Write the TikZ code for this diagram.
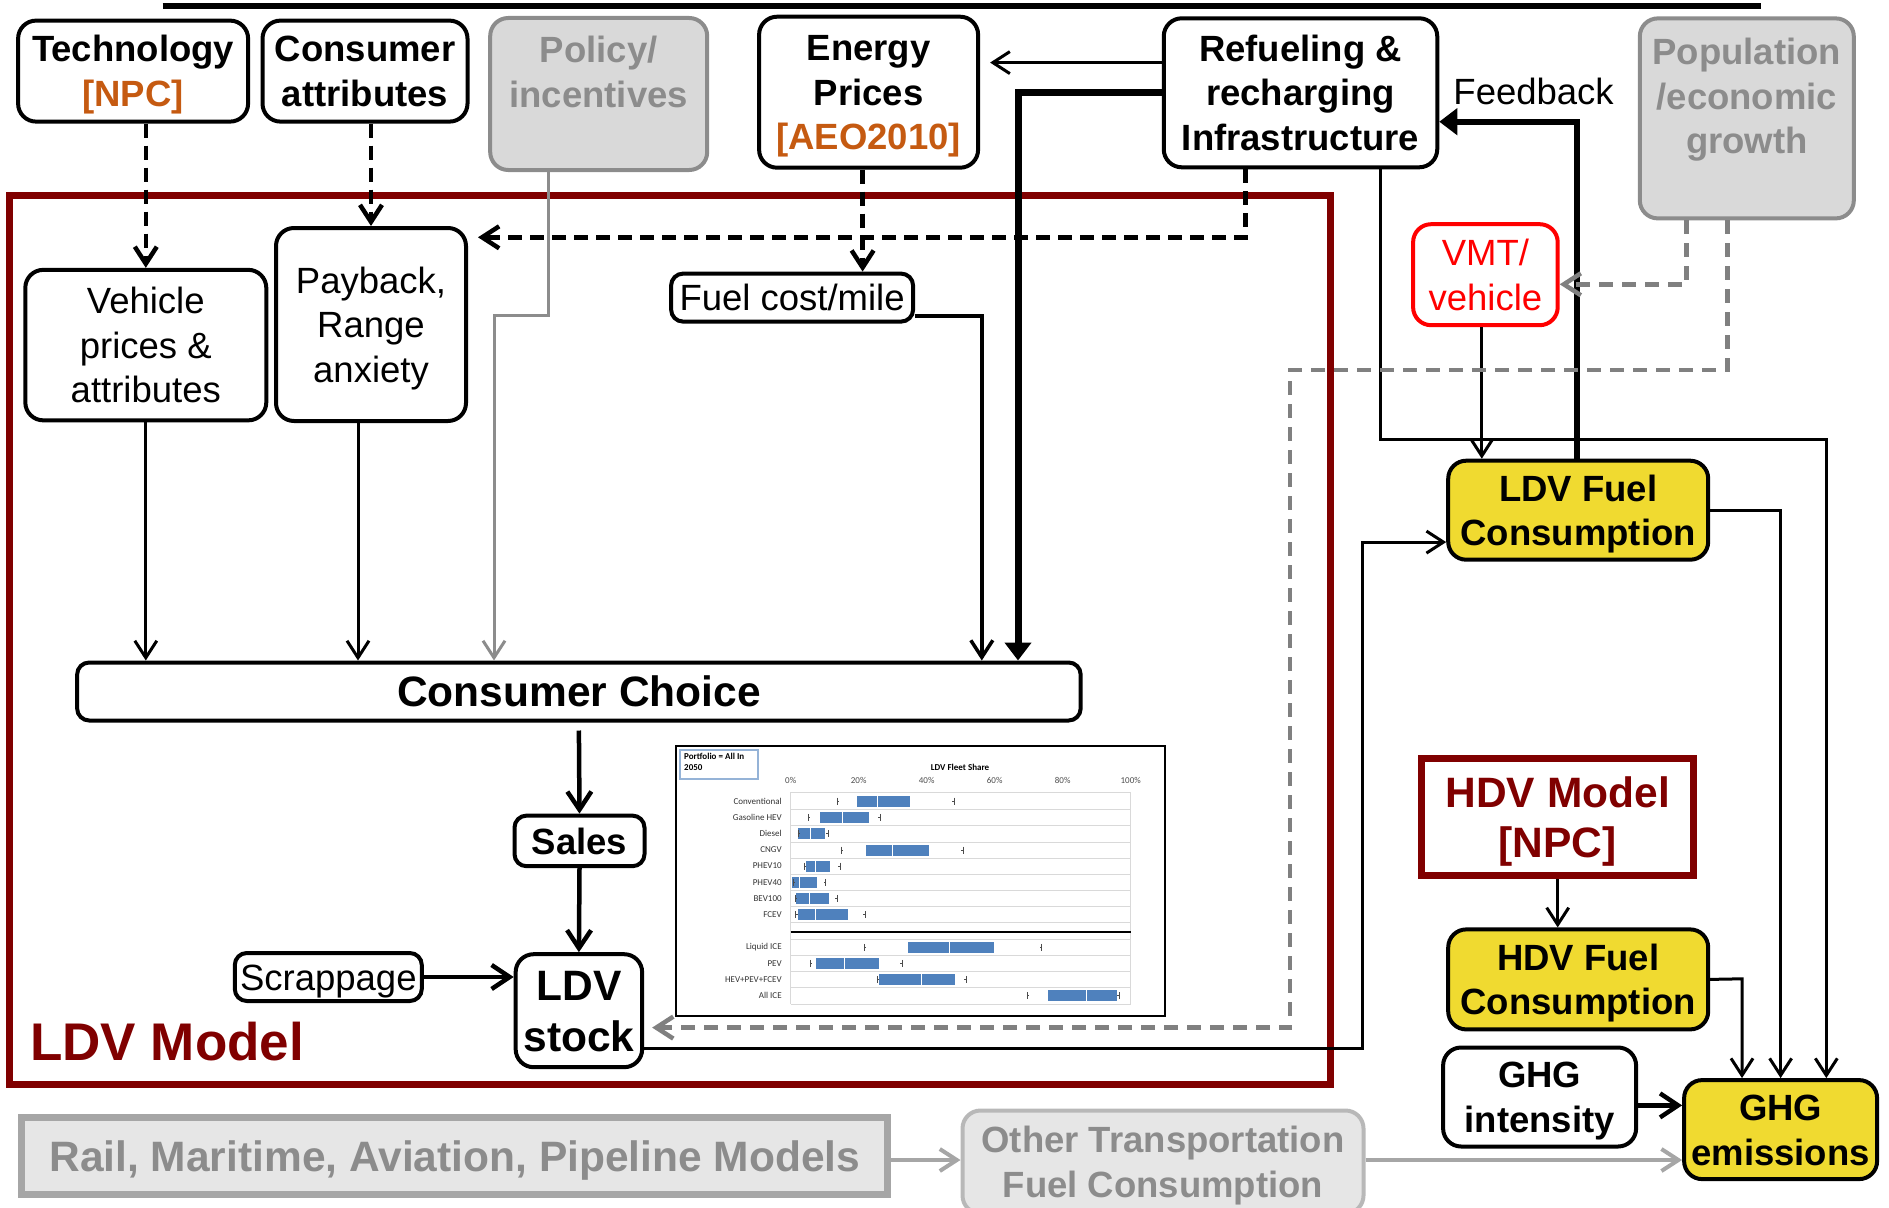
\documentclass[tikz,border=0pt]{standalone}
\usepackage{fontspec}
\setmainfont{Liberation Sans}
\newfontfamily\chartfont{Carlito}
\usetikzlibrary{arrows.meta}

\definecolor{ldvred}{HTML}{800000}
\definecolor{npcorange}{HTML}{C55A11}
\definecolor{fuelyellow}{HTML}{F0DA30}
\definecolor{policyfill}{HTML}{D9D9D9}
\definecolor{policygray}{HTML}{8C8C8C}
\definecolor{dashgray}{HTML}{808080}
\definecolor{otherfill}{HTML}{E6E6E6}
\definecolor{otherline}{HTML}{A6A6A6}
\definecolor{chartblue}{HTML}{4F81BD}
\definecolor{gridgray}{HTML}{D9D9D9}
\definecolor{legendblue}{HTML}{95B3D7}

\newcommand\normsize{\fontsize{36.5pt}{44.6pt}\selectfont}
\newcommand\largesize{\fontsize{42.5pt}{50.6pt}\selectfont}
\newcommand\hugesize{\fontsize{53pt}{60pt}\selectfont}
\newcommand\chartsize{\fontsize{9pt}{10.5pt}\selectfont\chartfont}

\begin{document}
\begin{tikzpicture}%
	[x=1pt, y=-1pt,
	oneline/.style={text height=35.3pt, text depth=9.1pt},
	twolines/.style={text height=79.9pt, text depth=9.1pt},
	threelines/.style={text height=124.5pt, text depth=9.1pt},
	fourlines/.style={text height=169.1pt, text depth=9.1pt},
	bigline/.style={text height=41pt, text depth=10.6pt},
	biglines/.style={text height=91.6pt, text depth=10.6pt},
	flowbox/.style={draw, line width=4pt, rounded corners=18pt, fill=white, align=center, inner sep=0pt, font=\normsize\bfseries},
	plainbox/.style={flowbox, font=\normsize},
	fuelbox/.style={flowbox, fill=fuelyellow},
	graybox/.style={flowbox, draw=policygray, fill=policyfill, text=policygray},
	otherbox/.style={flowbox, draw=otherline, fill=otherfill, text=policygray},
	modelframe/.style={draw=ldvred, line width=7pt, inner sep=0pt},
	link/.style={line width=3pt, -{Straight Barb[length=17pt,width=22pt]}},
	boldlink/.style={line width=4.5pt, -{Straight Barb[length=18pt,width=24pt]}},
	heavylink/.style={line width=7pt, -{Triangle[length=18pt,width=26pt]}},
	dashlink/.style={line width=4.5pt, dash pattern=on 14pt off 8pt, -{Straight Barb[length=17pt,width=22pt]}},
	graydashlink/.style={line width=4.5pt, color=dashgray, dash pattern=on 14pt off 9pt, -{Straight Barb[length=17pt,width=22pt]}},
	graylink/.style={line width=4pt, color=otherline, -{Straight Barb[length=17pt,width=22pt]}}]
%
\useasboundingbox (0,0) rectangle (1889,1207);
\draw[line width=6pt] (162.6,6) -- (1761.3,6);
%%
%% Drawing the LDV model frame
%%
\node[modelframe, minimum width=1320.4, minimum height=889] (ldvframe) at (669.8,639.7) {};
\node[font=\hugesize\bfseries, text=ldvred, anchor=west, inner sep=0pt] (ldvlabel) at (30,1042) {LDV Model};
%%
%% Drawing the chart
%%
\draw[line width=2pt] (676,746) rectangle (1165,1016);
\draw[legendblue, line width=1.5pt] (680,750) rectangle (758,779);
\node[anchor=north west, align=left, font=\chartsize\bfseries, inner sep=0pt] (legend) at (684,753) {Portfolio = All In\\2050};
\begin{scope}[shift={(790.7,0)}, x=3.4pt]
	\node[font=\chartsize\bfseries] (charttitle) at (49.8,767) {LDV Fleet Share};
	\foreach \p in {0,20,...,100}
		\node[font=\chartsize, text=black!70] at (\p,780) {\p\%};
	\foreach \gy in {792.3,809,825.7,842,858,874,890.3,906.3,922.3,939.3,955,971.3,987.7,1004}
		\draw[gridgray, line width=0.8pt] (0,\gy) -- (100,\gy);
	\draw[gridgray, line width=0.8pt] (0,792.3) -- (0,1004);
	\draw[gridgray, line width=0.8pt] (100,792.3) -- (100,1004);
	\draw[line width=2pt] (0,931.7) -- (100,931.7);
	\foreach \yy/\name/\lo/\qa/\md/\qb/\hi in {801/Conventional/13.7/19.4/25.6/35.1/48.0,
		817.3/Gasoline HEV/5.2/8.6/15.2/23.1/26.3,
		833.7/Diesel/2.1/2.1/5.7/10.2/11.0,
		850/CNGV/14.8/22.2/30.0/40.6/50.8,
		866/PHEV10/4.0/4.4/7.2/11.6/14.5,
		882.3/PHEV40/0.7/0.5/2.7/7.7/10.3,
		898.3/BEV100/1.3/1.6/5.5/11.2/13.7,
		914.7/FCEV/1.5/2.2/7.3/16.9/22.0,
		947.3/Liquid ICE/21.6/34.4/46.7/59.7/73.8,
		963.3/PEV/5.7/7.4/15.7/26.0/32.8,
		979.3/HEV+PEV+FCEV/25.5/25.9/38.3/48.3/51.6,
		995.7/All ICE/69.5/75.6/87.0/95.9/96.7}
	{
		\node[anchor=east, font=\chartsize, text=black!80, inner sep=0pt] at (-2.6,\yy) {\name};
		\fill[chartblue] (\qa,\yy-5.5) rectangle (\qb,\yy+5.5);
		\draw[white, line width=0.8pt] (\md,\yy-5.5) -- (\md,\yy+5.5);
		\draw[black!70, line width=0.7pt] (\lo,\yy-3.5) -- (\lo,\yy+3.5) (\lo,\yy) -- ++(0.6,0);
		\draw[black!70, line width=0.7pt] (\hi,\yy-3.5) -- (\hi,\yy+3.5) (\hi,\yy) -- ++(-0.6,0);
	}
\end{scope}
%%
%% Drawing the boxes
%%
\node[flowbox, twolines, minimum width=230, minimum height=101] (tech) at (133.1,71.1) {Technology\\\textcolor{npcorange}{[NPC]}};
\node[flowbox, twolines, minimum width=205, minimum height=101] (attr) at (365,71.1) {Consumer\\attributes};
\node[graybox, threelines, minimum width=217, minimum height=152] (policy) at (598.7,94) {Policy/\\incentives\\\mbox{}};
\node[flowbox, threelines, minimum width=219, minimum height=151] (energy) at (868.6,92.2) {Energy\\Prices\\\textcolor{npcorange}{[AEO2010]}};
\node[flowbox, threelines, minimum width=273.5, minimum height=149] (refuel) at (1300.5,92.8) {Refueling \&\\recharging\\Infrastructure};
\node[font=\normsize, inner sep=0pt] (feedback) at (1533.6,91.6) {Feedback};
\node[graybox, fourlines, minimum width=214, minimum height=200] (pop) at (1746.8,118.4) {Population\\/economic\\growth\\\mbox{}};
%
\node[plainbox, threelines, minimum width=241, minimum height=150.5] (veh) at (145.8,345.1) {Vehicle\\prices \&\\attributes};
\node[plainbox, threelines, minimum width=190, minimum height=193] (pay) at (371,324.5) {Payback,\\Range\\anxiety};
\node[plainbox, oneline, rounded corners=12pt, minimum width=242, minimum height=48] (fuel) at (792.1,297.6) {Fuel cost/mile};
\node[flowbox, bigline, font=\largesize\bfseries, rounded corners=12pt, minimum width=1003.5, minimum height=58] (choice) at (578.9,691.5) {Consumer Choice};
\node[flowbox, oneline, rounded corners=12pt, minimum width=130, minimum height=50.6] (sales) at (579.5,840.9) {Sales};
\node[plainbox, oneline, rounded corners=12pt, minimum width=187, minimum height=48] (scrap) at (328.3,977) {Scrappage};
\node[flowbox, biglines, font=\largesize\bfseries, minimum width=126.5, minimum height=113] (stock) at (578.9,1010.7) {LDV\\stock};
%
\node[plainbox, twolines, draw=red, text=red, minimum width=144.6, minimum height=101] (vmt) at (1485.4,274.7) {VMT/\\vehicle};
\node[fuelbox, twolines, minimum width=260, minimum height=99] (ldvfuel) at (1578.2,510.2) {LDV Fuel\\Consumption};
\node[modelframe, biglines, fill=white, text=ldvred, font=\largesize\bfseries, align=center, minimum width=272, minimum height=117] (hdvmodel) at (1557.7,817.4) {HDV Model\\{[NPC]}};
\node[fuelbox, twolines, minimum width=260, minimum height=100] (hdvfuel) at (1578.2,979.4) {HDV Fuel\\Consumption};
\node[flowbox, twolines, minimum width=193, minimum height=99] (ghgi) at (1539.6,1097) {GHG\\intensity};
\node[fuelbox, twolines, minimum width=193, minimum height=99] (ghge) at (1780.6,1129.6) {GHG\\emissions};
\node[draw=otherline, line width=7pt, bigline, fill=otherfill, text=policygray, font=\largesize\bfseries, inner sep=0pt, minimum width=866, minimum height=77] (rail) at (454.8,1156) {Rail, Maritime, Aviation, Pipeline Models};
\node[otherbox, twolines, draw=otherline!80, minimum width=401, minimum height=103] (other) at (1163,1162) {Other Transportation\\Fuel Consumption};
%%
%% Drawing the connectors
%%
\coordinate (polbend) at (494,315.6);
\coordinate (heavybend) at (1018,92.8);
\coordinate (dashbend) at (1245.7,237.3);
\coordinate (fuelbend) at (981.8,316.2);
\coordinate (fbbend) at (1577,121.7);
\coordinate (refbend) at (1380.6,439.7);
\coordinate (refbendb) at (1826.3,439.7);
\coordinate (popbend) at (1686.6,284.3);
\coordinate (popa) at (1727.5,369.8);
\coordinate (popb) at (1290.2,369.8);
\coordinate (popc) at (1290.2,1027.6);
\coordinate (stocka) at (1362.5,1048);
\coordinate (stockb) at (1362.5,542.1);
\coordinate (hdvbend) at (1742,978.8);
%
\draw[dashlink] (tech.south -| veh.north) -- (veh.north);
\draw[dashlink] (attr.south -| pay.north) -- (pay.north);
\draw[graylink, line width=3pt, color=policygray] ([xshift=-50.6pt]policy.south) |- (polbend) -- (polbend |- choice.north);
\draw[dashlink] ([xshift=-6pt]energy.south) -- ([xshift=-6pt]energy.south |- fuel.north);
\draw[link, shorten >=10pt] ([yshift=30.2pt]refuel.west) -- ([yshift=30.2pt]refuel.west -| energy.east);
\draw[heavylink] (refuel.west) -- (heavybend) -- (heavybend |- choice.north);
\draw[dashlink, shorten >=10pt] (dashbend |- refuel.south) -- (dashbend) -- (dashbend -| pay.east);
\draw[link, line width=3.5pt] (fuelbend -| fuel.east) -- (fuelbend) -- (fuelbend |- choice.north);
\draw[link] (veh.south) -- (veh.south |- choice.north);
\draw[link] ([xshift=-13pt]pay.south) -- ([xshift=-13pt]pay.south |- choice.north);
\draw[boldlink] ([yshift=-8pt]choice.south) -- (sales.north);
\draw[boldlink] (sales.south) -- (stock.north);
\draw[boldlink] (scrap.east) -- (scrap.east -| stock.west);
%
\draw[heavylink, line width=6pt] (fbbend |- ldvfuel.north) -- (fbbend) -- (fbbend -| refuel.east);
\draw[link] (refbend |- refuel.south) -- (refbend) -- (refbendb) -- (refbendb |- ghge.north);
\draw[link] ([xshift=-3.6pt]vmt.south) -- ([xshift=-3.6pt]vmt.south |- ldvfuel.north);
\draw[graydashlink] (popbend |- pop.south) -- (popbend) -- (popbend -| vmt.east);
\draw[graydashlink, shorten >=8pt] (popa |- pop.south) -- (popa) -- (popb) -- (popc) -- (popc -| stock.east);
\draw[link] (stocka -| stock.east) -- (stocka) -- (stockb) -- (stockb -| ldvfuel.west);
\draw[link] (ldvfuel.east) -| (ghge.north);
\draw[link] (hdvmodel.south) -- (hdvmodel.south |- hdvfuel.north);
\draw[link] (hdvfuel.east) -- (hdvbend) -- (hdvbend |- ghge.north);
\draw[boldlink] ([yshift=-8.4pt]ghgi.east) -- ([yshift=-8.4pt]ghgi.east -| ghge.west);
\draw[graylink] ([yshift=-4pt]rail.east) -- ([yshift=-4pt]rail.east -| other.west);
\draw[graylink] ([yshift=2pt]other.east) -- ([yshift=2pt]other.east -| ghge.west);
\end{tikzpicture}
\end{document}
